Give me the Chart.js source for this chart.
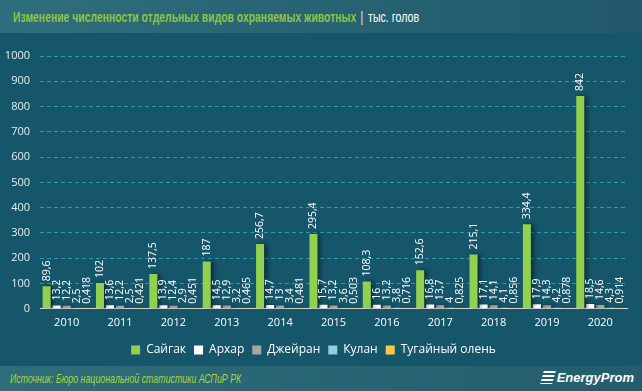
<!DOCTYPE html>
<html>
<head>
<meta charset="utf-8">
<script src="https://cdn.jsdelivr.net/npm/chart.js@4/dist/chart.umd.min.js"></script>
<style>
  html, body { margin: 0; padding: 0; }
  body { width: 642px; height: 391px; background: #15566a; position: relative; overflow: hidden; font-family: "Liberation Sans", sans-serif; }
  #head { position: absolute; left: 0; top: 0; width: 642px; height: 33px; background: linear-gradient(90deg, #2f6e7c, #21596a); }
  #head span { position: absolute; top: 9px; font-size: 14px; white-space: nowrap; transform-origin: 0 50%; }
  #title { left: 13px; color: #8dc63f; font-weight: bold; }
  #sep { left: 360px; color: #c8d4d8; }
  #unit { left: 368px; color: #ffffff; }
  #box { position: absolute; left: 0; top: 33px; width: 642px; height: 333px; }
  #foot { position: absolute; left: 0; top: 366px; width: 642px; height: 25px; background: linear-gradient(90deg, #2e6d7b, #235d6c); }
  #src { position: absolute; left: 10px; top: 5px; font-size: 13px; font-style: italic; color: #a6d63a; white-space: nowrap; transform-origin: 0 50%; }
  #logo { position: absolute; right: 8px; top: 4px; color: #ffffff; font-style: italic; font-weight: bold; font-size: 13px; }
  #logo i { display: inline-block; width: 12px; height: 13px; margin-right: 3px; vertical-align: -2px;
    background: repeating-linear-gradient(180deg, #ffffff 0 2px, transparent 2px 4px); transform: skewX(-15deg); }
</style>
</head>
<body>
<div id="head">
  <span id="title">Изменение численности отдельных видов охраняемых животных</span>
  <span id="sep">|</span>
  <span id="unit">тыс. голов</span>
</div>
<div id="box"><canvas id="chart"></canvas></div>
<div id="foot">
  <span id="src">Источник: Бюро национальной статистики АСПиР РК</span>
  <span id="logo"><i></i>EnergyProm</span>
</div>
<script>
const years = ["2010","2011","2012","2013","2014","2015","2016","2017","2018","2019","2020"]
const saiga = [89.6, 102, 137.5, 187, 256.7, 295.4, 108.3, 152.6, 215.1, 334.4, 842]
const arkhar = [13.2, 13.6, 13.9, 14.5, 14.7, 15.7, 16, 16.8, 17.1, 17.9, 18.5]
const dzheiran = [12.2, 12.2, 12.4, 12.9, 13, 13.2, 13.2, 13.7, 14.1, 14.3, 14.6]
const kulan = [2.5, 2.5, 2.9, 3.2, 3.4, 3.6, 3.8, 4, 4.1, 4.2, 4.3]
const deer = [0.418, 0.421, 0.451, 0.465, 0.481, 0.503, 0.716, 0.825, 0.856, 0.878, 0.914]
const yTicks = [0, 100, 200, 300, 400, 500, 600, 700, 800, 900, 1000]

const series = [
    {name: "Сайгак", data: saiga, color: "#92d050"},
    {name: "Архар", data: arkhar, color: "#ffffff"},
    {name: "Джейран", data: dzheiran, color: "#a6a6a6"},
    {name: "Кулан", data: kulan, color: "#8fd0dc"},
    {name: "Тугайный олень", data: deer, color: "#ffc845"}
]

// squeeze text to look like the condensed font of the original
function fitWidth(id, w){
    const el = document.getElementById(id)
    el.style.transform = "scaleX(" + (w / el.offsetWidth) + ")"
}
fitWidth("title", 343)
fitWidth("unit", 51)
fitWidth("src", 231)

// bar shadow + rotated value labels
const barExtras = {
    id: "barExtras",
    beforeDatasetsDraw(chart) {
        const ctx = chart.ctx
        ctx.save()
        ctx.shadowColor = "rgba(0,0,0,0.45)"
        ctx.shadowOffsetX = 3
        ctx.shadowOffsetY = 0
        ctx.shadowBlur = 4
    },
    afterDatasetsDraw(chart) {
        const ctx = chart.ctx
        ctx.restore()
        ctx.save()
        ctx.fillStyle = "#ffffff"
        ctx.font = "10.5px 'Open Sans', sans-serif"
        ctx.textAlign = "left"
        ctx.textBaseline = "middle"
        chart.data.datasets.forEach((ds, i) => {
            chart.getDatasetMeta(i).data.forEach((bar, j) => {
                ctx.save()
                ctx.translate(bar.x, bar.y - 5)
                ctx.rotate(-Math.PI / 2)
                ctx.fillText(String(ds.data[j]).replace(".", ","), 0, 0)
                ctx.restore()
            })
        })
        ctx.restore()
    }
}

new Chart(document.getElementById("chart"), {
    type: "bar",
    data: {
        labels: years,
        datasets: series.map(s => ({
            label: s.name,
            data: s.data,
            backgroundColor: s.color,
            borderWidth: 0,
            categoryPercentage: 0.94,
            barPercentage: 0.8
        }))
    },
    options: {
        responsive: true,
        maintainAspectRatio: false,
        animation: false,
        layout: { padding: { left: 0, right: 15, top: 23, bottom: 0 } },
        plugins: {
            tooltip: { enabled: false },
            legend: {
                position: "bottom",
                labels: {
                    color: "#ffffff",
                    boxWidth: 9,
                    boxHeight: 9,
                    padding: 8,
                    font: { family: "'Open Sans', sans-serif", size: 12 }
                }
            }
        },
        scales: {
            x: {
                grid: { display: false, drawTicks: false },
                border: { color: "#d9d9d9", width: 1 },
                ticks: { color: "#ffffff", padding: 7, font: { family: "'Open Sans', sans-serif", size: 11 } }
            },
            y: {
                min: 0,
                max: 1000,
                afterBuildTicks: axis => { axis.ticks = yTicks.map(v => ({value: v})) },
                afterFit: axis => { axis.width = 40 },
                grid: { color: "#2a98b0", drawTicks: false, lineWidth: 1, borderDash: [4, 3] },
                border: { display: false, dash: [4, 3] },
                ticks: { color: "#e6eef0", padding: 10, callback: v => String(v), font: { family: "'Open Sans', sans-serif", size: 11 } }
            }
        }
    },
    plugins: [barExtras]
})
</script>
</body>
</html>
